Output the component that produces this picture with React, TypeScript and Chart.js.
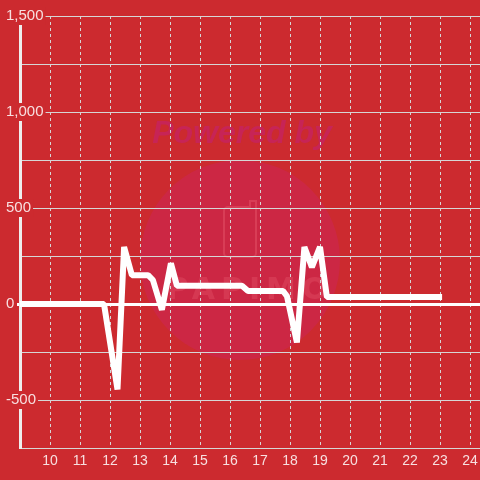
import React, { useEffect, useRef } from "react";
import { Chart, registerables } from "chart.js";

Chart.register(...registerables);

// Data
const xValues = [9.0, 11.8, 12.25, 12.47, 12.73, 13.27, 13.43, 13.73, 14.03, 14.23, 16.4, 16.6, 17.77, 17.9, 18.23, 18.48, 18.73, 19.0, 19.23, 23.07];
const yValues = [0, 0, -445, 297, 150, 150, 125, -30, 212, 95, 95, 68, 68, 40, -200, 297, 192, 297, 36, 36];

const xMin = 9;
const xMax = 24.3333;
const yMin = -750;
const yMax = 1500;
const yStep = 250;
const yLabelStep = 500;

const BG = "#cc2a2f";
const LABEL = "rgba(255,255,255,0.85)";
const GRID = "#d6d6d6";

const bgPlugin = {
  id: "bgWatermark",
  beforeDraw(chart: any) {
    const { ctx, width, height } = chart;
    ctx.save();
    ctx.fillStyle = BG;
    ctx.fillRect(0, 0, width, height);
    // watermark circle
    ctx.beginPath();
    ctx.arc(240, 260, 100, 0, Math.PI * 2);
    ctx.fillStyle = "rgba(205,38,80,0.65)";
    ctx.fill();
    // "Powered by"
    ctx.font = "italic bold 32px 'Liberation Sans', Arial, sans-serif";
    ctx.fillStyle = "rgba(198,36,88,0.95)";
    ctx.textAlign = "center";
    ctx.textBaseline = "middle";
    ctx.fillText("Powered by", 242, 134);
    // logo outline
    ctx.strokeStyle = "rgba(235,95,115,0.4)";
    ctx.lineWidth = 2;
    ctx.beginPath();
    const x0 = 224, y0 = 207, w = 32, h = 50, r = 4;
    ctx.moveTo(x0 + r, y0);
    ctx.lineTo(x0 + w - 6, y0);
    ctx.lineTo(x0 + w - 6, y0 - 6);
    ctx.lineTo(x0 + w, y0 - 6);
    ctx.lineTo(x0 + w, y0 + h - r);
    ctx.arcTo(x0 + w, y0 + h, x0 + w - r, y0 + h, r);
    ctx.lineTo(x0 + r, y0 + h);
    ctx.arcTo(x0, y0 + h, x0, y0 + h - r, r);
    ctx.lineTo(x0, y0 + r);
    ctx.arcTo(x0, y0, x0 + r, y0, r);
    ctx.stroke();
    ctx.font = "bold 30px 'DejaVu Sans', sans-serif";
    ctx.fillStyle = "rgba(235,95,115,0.3)";
    (ctx as any).letterSpacing = "6px";
    ctx.fillText("PAPIMO", 250, 291);
    ctx.restore();
  },
};

export default function App() {
  const ref = useRef<HTMLCanvasElement | null>(null);

  useEffect(() => {
    document.body.style.margin = "0";
    const canvas = ref.current;
    if (!canvas) return;
    const points = xValues.map((x, i) => ({ x, y: yValues[i] }));
    const chart = new Chart(canvas, {
      type: "line",
      data: {
        datasets: [
          {
            data: points,
            borderColor: "#ffffff",
            borderWidth: 6,
            pointRadius: 0,
            tension: 0,
            fill: false,
            borderCapStyle: "butt",
            borderJoinStyle: "bevel",
          },
        ],
      },
      plugins: [bgPlugin],
      options: {
        animation: false,
        responsive: false,
        devicePixelRatio: 1,
        layout: { padding: { top: 16, left: 0, right: 0, bottom: 0 } },
        plugins: { legend: { display: false }, tooltip: { enabled: false } },
        font: { family: "'Liberation Sans', Arial, sans-serif", size: 14 },
        scales: {
          x: {
            type: "linear",
            min: xMin,
            max: xMax,
            grid: {
              color: GRID,
              lineWidth: 1,
              drawTicks: false,
            },
            border: { display: true, color: GRID, width: 1, dash: [3, 3] },
            ticks: {
              stepSize: 1,
              includeBounds: false,
              color: LABEL,
              padding: 5,
              maxRotation: 0,
              autoSkip: false,
              font: { family: "'Liberation Sans', Arial, sans-serif", size: 14 },
              callback: (v: any) => (Number(v) === xMin ? null : String(v)),
            },
            afterFit: (s: any) => {
              s.height = 32;
              s.paddingLeft = 0;
              s.paddingRight = 0;
            },
          },
          y: {
            type: "linear",
            min: yMin,
            max: yMax,
            grid: {
              color: (c: any) => (c.tick && c.tick.value === 0 ? "#ffffff" : GRID),
              lineWidth: (c: any) => (c.tick && c.tick.value === 0 ? 3 : 1),
              drawTicks: true,
              tickLength: 3,
              tickWidth: 3,
              tickColor: (c: any) => (c.tick && c.tick.value === 0 ? "#ffffff" : "rgba(0,0,0,0)"),
            },
            border: { display: true, color: "#eeeeee", width: 3 },
            ticks: {
              stepSize: yStep,
              mirror: true,
              padding: -14,
              crossAlign: "near",
              color: LABEL,
              showLabelBackdrop: true,
              backdropColor: BG,
              backdropPadding: { top: 0, bottom: 0, left: 6, right: 2 },
              font: { family: "'Liberation Sans', Arial, sans-serif", size: 15 },
              callback: (v: any) => {
                const n = Number(v);
                if (n === yMin) return "";
                return n % yLabelStep === 0 ? n.toLocaleString("en-US") : "";
              },
            },
            afterFit: (s: any) => {
              s.width = 20;
              s.paddingTop = 0;
              s.paddingBottom = 0;
            },
          },
        },
      } as any,
    });
    return () => chart.destroy();
  }, []);

  return (
    <div style={{ position: "fixed", left: 0, top: 0, width: 480, height: 480, background: BG }}>
      <canvas ref={ref} width={480} height={480} style={{ width: 480, height: 480, display: "block" }} />
    </div>
  );
}
